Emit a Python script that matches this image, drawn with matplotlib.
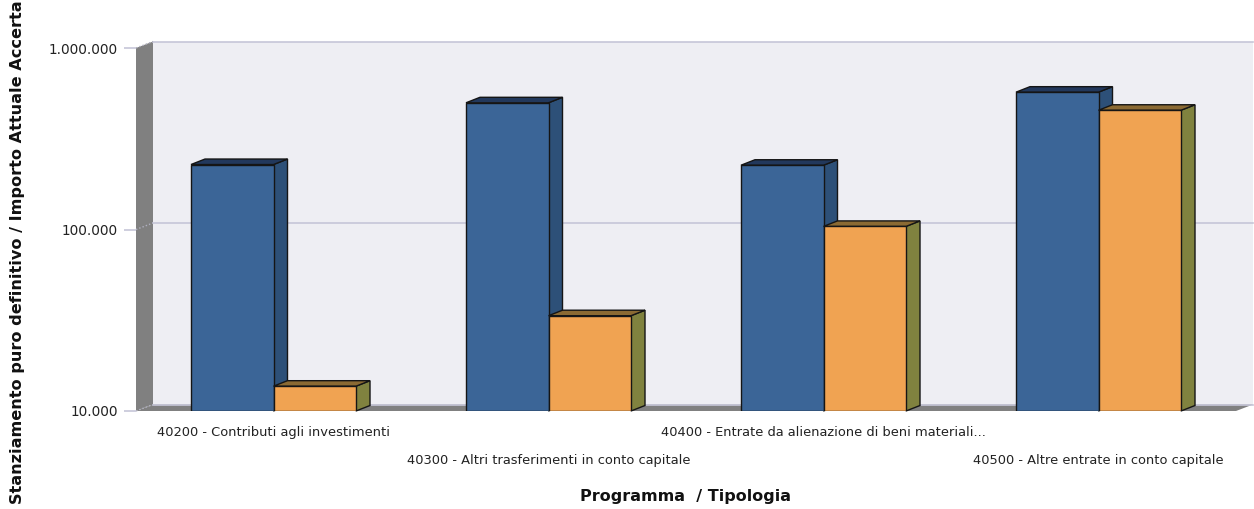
import matplotlib
matplotlib.use("Agg")
import matplotlib.pyplot as plt
from matplotlib.patches import Polygon, Rectangle
from matplotlib.transforms import Affine2D, IdentityTransform, blended_transform_factory
from matplotlib.ticker import FixedLocator, FixedFormatter
import numpy as np

categories = [
    "40200 - Contributi agli investimenti",
    "40300 - Altri trasferimenti in conto capitale",
    "40400 - Entrate da alienazione di beni materiali...",
    "40500 - Altre entrate in conto capitale",
]
stanziamento = [228000, 499000, 226000, 571000]
accertato = [13700, 33500, 104000, 454000]
y_ticks = [1e4, 1e5, 1e6]
y_tick_labels = ["10.000", "100.000", "1.000.000"]
x_label = "Programma  / Tipologia"
y_label = "Stanziamento puro definitivo / Importo Attuale Accerta"

W, H = 1254, 509
fig = plt.figure(figsize=(W / 100, H / 100), dpi=100)
fig.patch.set_facecolor("white")

left, right, top, bottom = 136, 1236, 48, 411
ax = fig.add_axes([left / W, (H - bottom) / H, (right - left) / W, (bottom - top) / H])
ax.set_yscale("log")
y_base = 1e4
ax.set_ylim(y_base, 1e6)
ax.set_xlim(-0.5, len(categories) - 0.5)
ax.patch.set_visible(False)
for s in ax.spines.values():
    s.set_visible(False)

# wall offsets (pixels, display coords: y up)
WDX, WDY = 17, 6.5
BDX, BDY = 14, 5.5
wall_off = Affine2D().translate(WDX, WDY)

grid_col = "#C6C6D8"
wall_col = "#808080"
back_col = "#EEEEF3"

# back wall
ax.add_patch(Rectangle((0, 0), 1, 1, transform=ax.transAxes + wall_off,
                       facecolor=back_col, edgecolor="none", zorder=0, clip_on=False))

def axes_px(pts):
    return ax.transAxes.transform(pts)

p00, p01, p10 = axes_px([(0, 0), (0, 1), (1, 0)])
lw_poly = [p00, p01, p01 + [WDX, WDY], p00 + [WDX, WDY]]
ax.add_patch(Polygon(lw_poly, closed=True, transform=IdentityTransform(),
                     facecolor=wall_col, edgecolor="none", zorder=0.5, clip_on=False))
fl_poly = [p00, p10, p10 + [WDX, WDY], p00 + [WDX, WDY]]
ax.add_patch(Polygon(fl_poly, closed=True, transform=IdentityTransform(),
                     facecolor=wall_col, edgecolor="none", zorder=0.5, clip_on=False))

# gridlines on back wall + diagonal on left wall
btrans = blended_transform_factory(ax.transAxes, ax.transData)
for yv in y_ticks:
    ax.plot([0, 1], [yv, yv], transform=btrans + wall_off, color=grid_col,
            lw=1.2, zorder=0.8, clip_on=False)
    ya = btrans.transform([(0, yv)])[0]
    ax.plot([ya[0], ya[0] + WDX], [ya[1], ya[1] + WDY], transform=IdentityTransform(),
            color="#B0B0C0", lw=1.0, ls=(0, (1, 1.5)), zorder=0.9, clip_on=False)

# ticks
ax.yaxis.set_major_locator(FixedLocator(y_ticks))
ax.yaxis.set_major_formatter(FixedFormatter(y_tick_labels))
ax.yaxis.set_minor_locator(FixedLocator([]))
ax.tick_params(axis="y", which="major", length=9, width=1.2, color=grid_col,
               labelsize=9.8, pad=4, labelcolor="#222222")
ax.tick_params(axis="y", which="minor", length=0)

x = np.arange(len(categories))
ax.set_xticks(x)
ax.set_xticklabels(categories)
ax.tick_params(axis="x", length=0, labelsize=9.4, labelcolor="#222222")
for i, t in enumerate(ax.xaxis.get_major_ticks()):
    t.set_pad(11 if i % 2 == 0 else 31)

# bars
bw = 0.30
series = [
    (stanziamento, -bw, "#3B6597", "#2D5078", "#22385C"),
    (accertato, 0.0, "#F0A352", "#80823F", "#8B6A33"),
]
edge = "#151515"
z = 2
for i in range(len(categories)):
    for vals, off, fc, sc, tc in series:
        v = vals[i]
        x0 = x[i] + off
        x1 = x0 + bw
        ax.bar(x0, v - y_base, width=bw, bottom=y_base, align="edge", color=fc,
               edgecolor=edge, linewidth=1.0, zorder=z + 1)
        p = ax.transData.transform([(x0, y_base), (x1, y_base), (x1, v), (x0, v)])
        d = np.array([BDX, BDY])
        side = [p[1], p[2], p[2] + d, p[1] + d]
        topf = [p[3], p[2], p[2] + d, p[3] + d]
        ax.add_patch(Polygon(side, closed=True, transform=IdentityTransform(),
                             facecolor=sc, edgecolor=edge, lw=1.0, zorder=z, clip_on=False))
        ax.add_patch(Polygon(topf, closed=True, transform=IdentityTransform(),
                             facecolor=tc, edgecolor=edge, lw=1.0, zorder=z, clip_on=False))
        z += 2

fig.text(686 / W, 1 - 497 / H, x_label, ha="center", va="center",
         fontsize=11.5, fontweight="bold", color="#111111")
fig.text(18 / W, 1 - 504 / H, y_label, ha="center", va="bottom", rotation=90,
         fontsize=11.6, fontweight="bold", color="#111111")

fig.savefig("out.png", dpi=100)
